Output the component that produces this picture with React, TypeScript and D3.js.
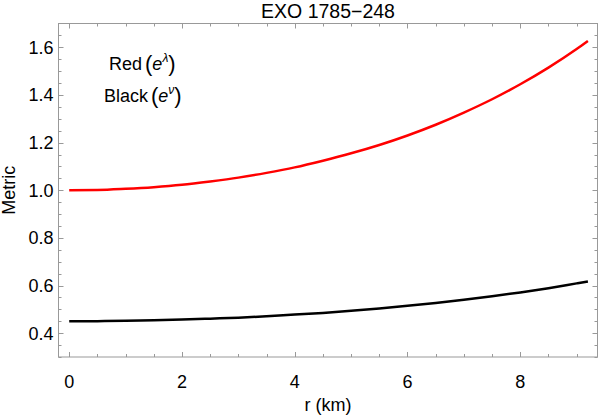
import React from "react";
import * as d3 from "d3";

const rValues = [0, 0.5, 1, 1.5, 2, 2.5, 3, 3.5, 4, 4.5, 5, 5.5, 6, 6.5, 7, 7.5, 8, 8.5, 9, 9.2];
const redValues = [1.0, 1.001, 1.006, 1.013, 1.023, 1.037, 1.053, 1.073, 1.096, 1.124, 1.155, 1.19, 1.23, 1.275, 1.326, 1.382, 1.445, 1.515, 1.593, 1.627];
const blackValues = [0.45, 0.4505, 0.452, 0.454, 0.457, 0.461, 0.465, 0.471, 0.478, 0.485, 0.494, 0.504, 0.515, 0.527, 0.54, 0.555, 0.571, 0.589, 0.609, 0.617];
const xTicks = [0, 2, 4, 6, 8];
const yTicks = [0.4, 0.6, 0.8, 1.0, 1.2, 1.4, 1.6];

const W = 599, H = 415;
const L = 58.5, R = 597.5, T = 23.5, B = 357;
const FONT = "'Liberation Sans', Arial, sans-serif";

export default function App() {
  const x = d3.scaleLinear().domain([-0.19, 9.37]).range([L, R]);
  const y = d3.scaleLinear().domain([0.3, 1.7]).range([B, T]);
  const line = (vals: number[]) =>
    d3.line<number>().x((_, i) => x(rValues[i])).y((v) => y(v)).curve(d3.curveMonotoneX)(vals) || "";

  const xMinor = d3.range(0, 9.5, 0.5);
  const yMinor = d3.range(0.3, 1.701, 0.05);
  const gray = "#999";

  return (
    <svg width={W} height={H} style={{ position: "absolute", left: 0, top: 0, background: "#fff" }} fontFamily={FONT}>
      <rect x={L} y={T} width={R - L} height={B - T} fill="none" stroke={gray} strokeWidth={1} />
      {xMinor.map((v, i) => {
        const major = xTicks.some((t) => Math.abs(t - v) < 1e-6);
        const len = major ? 5 : 3;
        const px = Math.round(x(v)) + 0.5;
        return (
          <g key={"xt" + i}>
            <line x1={px} x2={px} y1={B} y2={B - len} stroke={gray} />
            <line x1={px} x2={px} y1={T} y2={T + len} stroke={gray} />
          </g>
        );
      })}
      {yMinor.map((v, i) => {
        const major = yTicks.some((t) => Math.abs(t - v) < 1e-6);
        const len = major ? 5 : 3;
        const py = Math.round(y(v)) + 0.5;
        return (
          <g key={"yt" + i}>
            <line x1={L} x2={L + len} y1={py} y2={py} stroke={gray} />
            <line x1={R} x2={R - len} y1={py} y2={py} stroke={gray} />
          </g>
        );
      })}
      {xTicks.map((t) => (
        <text key={"xl" + t} x={x(t)} y={388} textAnchor="middle" fontSize={18} fill="#000">
          {t}
        </text>
      ))}
      {yTicks.map((t) => (
        <text key={"yl" + t} x={L - 5} y={y(t) + 6.5} textAnchor="end" fontSize={18} fill="#000">
          {t.toFixed(1)}
        </text>
      ))}
      <path d={line(redValues)} fill="none" stroke="#ff0000" strokeWidth={2.5} />
      <path d={line(blackValues)} fill="none" stroke="#000" strokeWidth={2.5} />
      <text x={(L + R) / 2} y={18} textAnchor="middle" fontSize={19.5} fill="#000">
        EXO 1785−248
      </text>
      <text x={(L + R) / 2} y={411} textAnchor="middle" fontSize={18} fill="#000">
        r (km)
      </text>
      <text transform={`translate(15, ${(T + B) / 2}) rotate(-90)`} textAnchor="middle" fontSize={18} fill="#000">
        Metric
      </text>
      <text x={109} y={70} fontSize={18} fill="#000">
        Red
        <tspan fontSize={22} dx={3} dy={1}>(</tspan>
        <tspan fontStyle="italic" dy={-1}>e</tspan>
        <tspan fontSize={12} fontStyle="italic" dy={-8}>λ</tspan>
        <tspan fontSize={22} dy={9}>)</tspan>
      </text>
      <text x={104} y={102} fontSize={18} fill="#000">
        Black
        <tspan fontSize={22} dx={3} dy={1}>(</tspan>
        <tspan fontStyle="italic" dy={-1}>e</tspan>
        <tspan fontSize={12} fontStyle="italic" dy={-8}>ν</tspan>
        <tspan fontSize={22} dy={9}>)</tspan>
      </text>
    </svg>
  );
}
